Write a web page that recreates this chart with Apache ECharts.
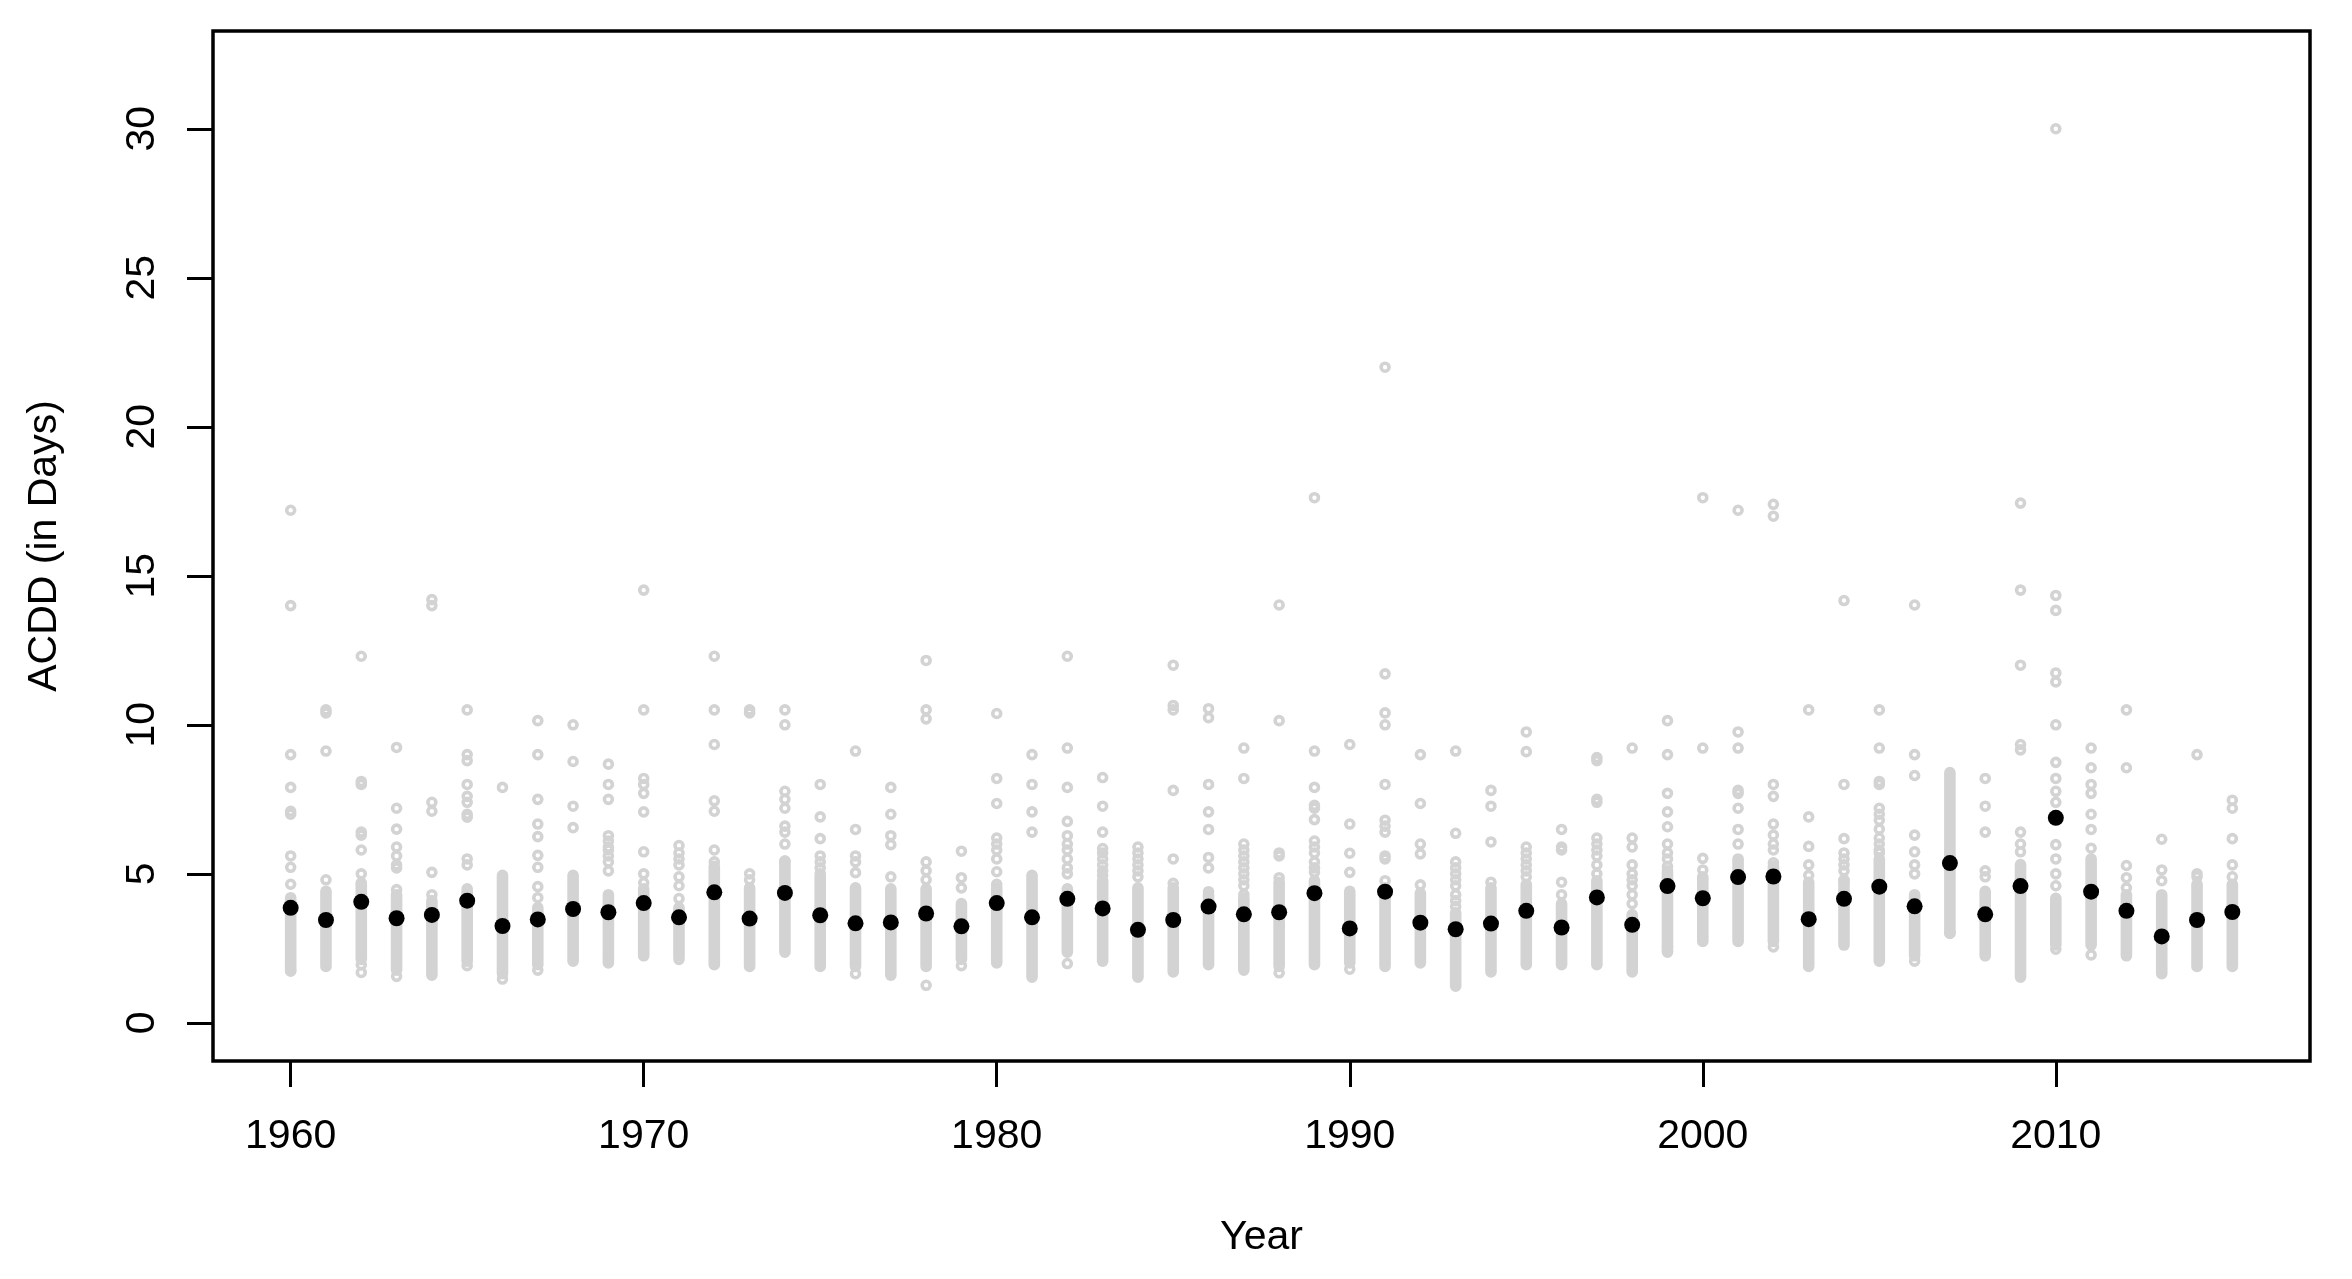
<!DOCTYPE html>
<html>
<head>
<meta charset="utf-8">
<title>ACDD by Year</title>
<script src="https://cdn.jsdelivr.net/npm/echarts/dist/echarts.min.js"></script>
<style>
  html, body { margin: 0; padding: 0; background: #fff; }
  #container { width: 2352px; height: 1279px; }
</style>
</head>
<body>
<div id="container"></div>
<script>
// years on the x axis
var years = [1960, 1961, 1962, 1963, 1964, 1965, 1966, 1967, 1968, 1969,
    1970, 1971, 1972, 1973, 1974, 1975, 1976, 1977, 1978, 1979,
    1980, 1981, 1982, 1983, 1984, 1985, 1986, 1987, 1988, 1989,
    1990, 1991, 1992, 1993, 1994, 1995, 1996, 1997, 1998, 1999,
    2000, 2001, 2002, 2003, 2004, 2005, 2006, 2007, 2008, 2009,
    2010, 2011, 2012, 2013, 2014, 2015];

// yearly mean ACDD (black dots)
var means = [3.86, 3.45, 4.06, 3.51, 3.62, 4.10, 3.25, 3.47, 3.82, 3.71,
    4.02, 3.54, 4.38, 3.50, 4.36, 3.61, 3.34, 3.37, 3.67, 3.24,
    4.02, 3.54, 4.16, 3.84, 3.12, 3.45, 3.90, 3.64, 3.71, 4.35,
    3.17, 4.40, 3.36, 3.14, 3.33, 3.76, 3.20, 4.21, 3.29, 4.59,
    4.18, 4.89, 4.91, 3.48, 4.16, 4.57, 3.91, 5.36, 3.64, 4.59,
    6.88, 4.40, 3.76, 2.90, 3.45, 3.72];

// range where station circles overlap into a solid grey strip
var bandLow = [1.74, 1.89, 2.13, 1.77, 1.60, 2.07, 1.65, 1.95, 2.07, 2.07,
    2.25, 2.25, 1.95, 1.89, 2.37, 1.89, 1.89, 1.60, 1.89, 2.13,
    2.01, 1.53, 2.37, 2.07, 1.53, 1.71, 1.95, 1.77, 1.89, 1.95,
    2.01, 1.89, 2.01, 1.23, 1.71, 1.95, 1.95, 1.95, 1.71, 2.37,
    2.73, 2.73, 2.73, 1.89, 2.61, 2.07, 2.25, 3.00, 2.25, 1.53,
    2.61, 2.61, 2.25, 1.65, 1.89, 1.89];
var bandHigh = [4.20, 4.41, 4.65, 4.30, 4.10, 4.40, 4.95, 3.87, 4.95, 4.30,
    4.41, 3.81, 5.25, 4.53, 5.43, 4.90, 4.53, 4.41, 4.41, 4.00,
    4.53, 4.95, 4.40, 4.77, 4.53, 4.53, 4.30, 4.18, 4.72, 4.77,
    4.41, 4.53, 4.35, 3.69, 4.53, 4.65, 4.00, 4.77, 3.63, 5.10,
    4.90, 5.50, 5.25, 4.72, 4.77, 5.50, 4.30, 8.40, 4.41, 5.31,
    4.18, 5.50, 4.30, 4.30, 4.65, 4.65];

// separate station circles (grey open circles), one list per year
var stations = [
    [17.2, 14.0, 9.0, 7.9, 7.1, 7.0, 5.6, 5.22, 4.65, 1.74],
    [10.5, 10.4, 9.12, 4.8],
    [12.3, 8.1, 8.0, 6.4, 6.3, 5.8, 5.0, 4.7, 1.95, 1.69],
    [9.24, 7.2, 6.5, 5.9, 5.6, 5.3, 5.2, 4.47, 1.56],
    [14.2, 14.0, 7.4, 7.1, 5.05, 4.3],
    [10.5, 9.0, 8.8, 8.0, 7.6, 7.4, 7.0, 6.9, 5.5, 5.3, 4.5, 1.92],
    [7.9, 1.47],
    [10.14, 9.0, 7.5, 6.67, 6.25, 5.62, 5.22, 4.57, 4.2, 1.77],
    [10.0, 8.77, 7.27, 6.55],
    [8.68, 8.0, 7.5, 6.28, 6.1, 5.9, 5.8, 5.6, 5.4, 5.1, 2.01],
    [14.52, 10.5, 8.2, 8.0, 7.7, 7.08, 5.74, 5.0, 4.7, 4.5],
    [5.95, 5.7, 5.5, 5.3, 4.9, 4.6, 4.17, 3.87, 2.13],
    [12.3, 10.5, 9.34, 7.45, 7.1, 5.8, 5.4],
    [10.5, 10.4, 5.0, 4.8],
    [10.5, 10.0, 7.77, 7.5, 7.2, 6.6, 6.4, 6.0, 5.43],
    [8.0, 6.91, 6.18, 5.6, 5.4, 5.2, 5.0],
    [9.12, 6.49, 5.6, 5.4, 5.04, 1.65],
    [7.9, 7.0, 6.28, 5.98, 4.9, 4.5],
    [12.16, 10.5, 10.2, 5.4, 5.1, 4.8, 4.5, 1.26],
    [5.76, 4.87, 4.53, 1.92],
    [10.38, 8.2, 7.36, 6.2, 6.0, 5.8, 5.5, 5.07, 4.65],
    [9.0, 8.0, 7.08, 6.4],
    [12.3, 9.22, 7.9, 6.76, 6.28, 6.0, 5.8, 5.5, 5.2, 5.0, 4.5, 1.99],
    [8.23, 7.27, 6.4, 5.85, 5.7, 5.5, 5.3, 5.1, 4.95],
    [5.9, 5.7, 5.5, 5.3, 5.1, 4.9],
    [12.0, 10.65, 10.5, 7.8, 5.5, 4.68],
    [10.54, 10.24, 8.0, 7.08, 6.49, 5.55, 5.2, 4.4],
    [9.22, 8.2, 6.0, 5.8, 5.6, 5.4, 5.2, 5.0, 4.8, 4.6, 4.3],
    [14.02, 10.14, 5.7, 5.6, 4.87, 1.68],
    [17.62, 9.12, 7.9, 7.3, 7.2, 6.82, 6.1, 5.9, 5.7, 5.4, 5.2, 5.05],
    [9.34, 6.67, 5.69, 5.05, 1.8],
    [22.0, 11.71, 10.4, 10.0, 8.0, 6.8, 6.6, 6.4, 5.6, 5.5, 4.77],
    [9.0, 7.36, 6.0, 5.67, 4.63],
    [9.12, 6.36, 5.4, 5.2, 5.0, 4.8, 4.6, 4.3, 4.1, 3.9],
    [7.8, 7.27, 6.07, 4.72],
    [9.76, 9.1, 5.9, 5.7, 5.5, 5.3, 5.1, 4.9],
    [6.49, 5.9, 5.8, 4.72, 4.3],
    [8.9, 8.8, 7.5, 7.4, 6.2, 6.0, 5.8, 5.6, 5.3, 5.0],
    [9.22, 6.2, 5.9, 5.3, 5.0, 4.8, 4.6, 4.3, 4.0],
    [10.14, 9.0, 7.7, 7.08, 6.58, 6.0, 5.7, 5.5, 5.25, 2.55],
    [17.62, 9.22, 5.52, 5.13],
    [17.2, 9.76, 9.22, 7.8, 7.7, 7.2, 6.49, 6.0],
    [17.4, 17.0, 8.0, 7.6, 6.67, 6.3, 6.0, 5.8, 5.37, 2.55],
    [10.5, 6.91, 5.92, 5.3, 4.95],
    [14.17, 8.0, 6.18, 5.7, 5.5, 5.3, 5.1, 4.8],
    [10.5, 9.22, 8.1, 8.0, 7.2, 7.0, 6.8, 6.5, 6.2, 6.0, 5.8, 5.7],
    [14.02, 9.0, 8.3, 6.3, 5.74, 5.3, 5.0, 2.07],
    [3.03],
    [8.2, 7.27, 6.4, 5.1, 4.9],
    [17.44, 14.52, 12.0, 9.34, 9.16, 6.4, 6.0, 5.74],
    [30.0, 14.34, 13.84, 11.74, 11.44, 10.0, 8.74, 8.2, 7.77, 7.4, 5.98, 5.5, 5.0, 4.6, 2.47],
    [9.22, 8.56, 8.0, 7.7, 7.0, 6.49, 5.86, 2.28],
    [10.5, 8.56, 5.28, 4.87, 4.53],
    [6.16, 5.13, 4.77],
    [9.0, 5.0, 4.9],
    [7.47, 7.2, 6.18, 5.3, 4.9]
];

var xTicks = [1960, 1970, 1980, 1990, 2000, 2010];
var yTicks = [0, 5, 10, 15, 20, 25, 30];

var FONT = 'Liberation Sans, Arial, Helvetica, sans-serif';

var dom = document.getElementById("container");
var myChart = echarts.init(dom);

var stationData = [];
years.forEach(function (yr, i) {
    stations[i].forEach(function (v) {
        stationData.push([yr, v]);
    });
});
var bandData = years.map(function (yr, i) {
    return [yr, bandLow[i], bandHigh[i]];
});
var meanData = years.map(function (yr, i) {
    return [yr, means[i]];
});

var option = {
    animation: false,
    backgroundColor: '#fff',
    textStyle: { fontFamily: FONT },
    grid: {
        left: 213,
        right: 42,
        top: 31,
        bottom: 218,
        show: true,
        borderColor: '#000',
        borderWidth: 3.5,
        backgroundColor: 'transparent'
    },
    xAxis: {
        type: 'value',
        position: 'bottom',
        min: 1957.8,
        max: 2017.2,
        name: 'Year',
        nameLocation: 'middle',
        nameGap: 156,
        nameTextStyle: { fontSize: 41, color: '#000', fontFamily: FONT },
        axisLine: { show: false, onZero: false },
        splitLine: { show: false },
        axisTick: {
            show: true,
            customValues: xTicks,
            length: 26,
            lineStyle: { color: '#000', width: 3 }
        },
        axisLabel: {
            customValues: xTicks,
            margin: 55,
            fontSize: 41,
            color: '#000',
            fontFamily: FONT,
            formatter: function (v) { return String(v); }
        }
    },
    yAxis: {
        type: 'value',
        position: 'left',
        min: -1.28,
        max: 33.28,
        name: 'ACDD (in Days)',
        nameLocation: 'middle',
        nameRotate: 90,
        nameGap: 148,
        nameTextStyle: { fontSize: 41, color: '#000', fontFamily: FONT },
        axisLine: { show: false, onZero: false },
        splitLine: { show: false },
        axisTick: {
            show: true,
            customValues: yTicks,
            length: 26,
            lineStyle: { color: '#000', width: 3 }
        },
        axisLabel: {
            customValues: yTicks,
            rotate: 90,
            margin: 50,
            fontSize: 41,
            color: '#000',
            fontFamily: FONT
        }
    },
    series: [
        {
            name: 'strip',
            type: 'custom',
            silent: true,
            z: 1,
            data: bandData,
            encode: { x: 0, y: [1, 2] },
            renderItem: function (params, api) {
                var lo = api.coord([api.value(0), api.value(1)]);
                var hi = api.coord([api.value(0), api.value(2)]);
                var r = 5.8;
                return {
                    type: 'rect',
                    shape: { x: lo[0] - r, y: hi[1] - r, width: 2 * r, height: lo[1] - hi[1] + 2 * r, r: r },
                    style: { fill: '#D3D3D3' }
                };
            }
        },
        {
            name: 'stations',
            type: 'scatter',
            silent: true,
            z: 2,
            symbol: 'circle',
            symbolSize: 8,
            itemStyle: { color: 'rgba(255,255,255,0)', borderColor: '#D3D3D3', borderWidth: 3.6, opacity: 1 },
            data: stationData
        },
        {
            name: 'mean',
            type: 'scatter',
            silent: true,
            z: 3,
            symbol: 'circle',
            symbolSize: 16,
            itemStyle: { color: '#000', opacity: 1 },
            data: meanData
        }
    ]
};

if (option && typeof option === "object") {
    myChart.setOption(option, true);
}
</script>
</body>
</html>
